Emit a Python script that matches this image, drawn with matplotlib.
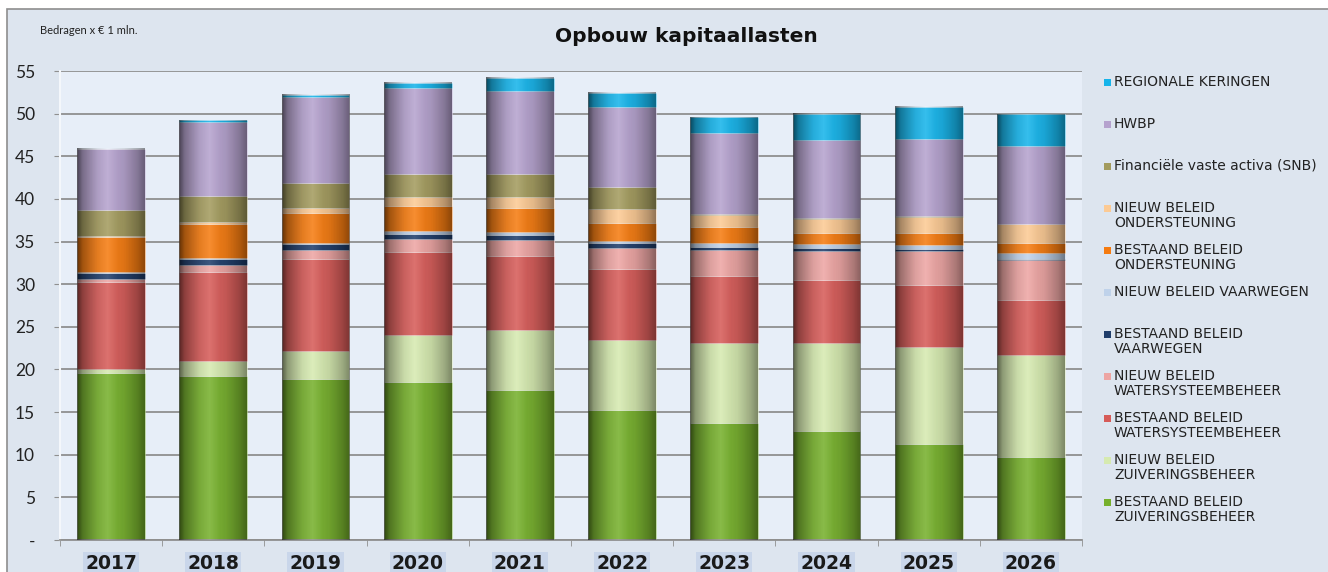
import numpy as np
import matplotlib
matplotlib.use("Agg")
import matplotlib.pyplot as plt
from matplotlib.patches import Rectangle

years = ["2017", "2018", "2019", "2020", "2021", "2022", "2023", "2024", "2025", "2026"]

bestaand_zuiv = [19.6, 19.2, 18.85, 18.5, 17.55, 15.3, 13.75, 12.8, 11.2, 9.75]
nieuw_zuiv = [0.5, 1.8, 3.35, 5.5, 7.1, 8.1, 9.3, 10.25, 11.45, 12.0]
bestaand_water = [10.2, 10.4, 10.7, 9.8, 8.7, 8.35, 7.9, 7.45, 7.25, 6.45]
nieuw_water = [0.3, 0.9, 1.1, 1.5, 1.8, 2.45, 3.1, 3.4, 4.0, 4.6]
bestaand_vaar = [0.7, 0.7, 0.7, 0.6, 0.6, 0.6, 0.35, 0.3, 0.2, 0.2]
nieuw_vaar = [0.1, 0.1, 0.15, 0.3, 0.35, 0.25, 0.45, 0.5, 0.55, 0.7]
bestaand_ond = [4.1, 3.9, 3.45, 2.95, 2.8, 2.15, 1.8, 1.3, 1.3, 1.15]
nieuw_ond = [0.15, 0.3, 0.6, 1.1, 1.35, 1.6, 1.45, 1.7, 1.95, 2.2]
fin_activa = [3.05, 3.0, 3.0, 2.7, 2.65, 2.55, 0.1, 0.05, 0.05, 0.05]
hwbp = [7.1, 8.7, 10.1, 10.0, 9.75, 9.45, 9.5, 9.2, 9.1, 9.15]
regionale = [0.1, 0.2, 0.2, 0.7, 1.55, 1.65, 1.9, 3.05, 3.75, 3.7]

series = [
    ("BESTAAND BELEID\nZUIVERINGSBEHEER", bestaand_zuiv, "#76b02c"),
    ("NIEUW BELEID\nZUIVERINGSBEHEER", nieuw_zuiv, "#d6eab0"),
    ("BESTAAND BELEID\nWATERSYSTEEMBEHEER", bestaand_water, "#d65b58"),
    ("NIEUW BELEID\nWATERSYSTEEMBEHEER", nieuw_water, "#eda5a3"),
    ("BESTAAND BELEID\nVAARWEGEN", bestaand_vaar, "#1f3d6b"),
    ("NIEUW BELEID VAARWEGEN", nieuw_vaar, "#bfd2ea"),
    ("BESTAAND BELEID\nONDERSTEUNING", bestaand_ond, "#f57b10"),
    ("NIEUW BELEID\nONDERSTEUNING", nieuw_ond, "#fcca94"),
    ("Financiële vaste activa (SNB)", fin_activa, "#a39b5e"),
    ("HWBP", hwbp, "#b5a2ce"),
    ("REGIONALE KERINGEN", regionale, "#16b4ea"),
]

W, H = 1328, 572
fig = plt.figure(figsize=(W / 100, H / 100), dpi=100)
fig.patch.set_facecolor("white")

# chart area background
fig.patches.append(Rectangle((7 / W, -0.01), 1.0, 1 - 9 / H + 0.01, transform=fig.transFigure,
                             facecolor="#dde5ef", edgecolor="#8e8e8e", linewidth=1.2, zorder=-5))

ax = fig.add_axes([60 / W, (H - 540) / H, (1082 - 60) / W, (540 - 71) / H])
ax.set_zorder(1)
ax.set_facecolor("#e7eef8")

x = np.arange(len(years))
bw = 0.665
bottom = np.zeros(len(years))
for label, vals, col in series:
    v = np.array(vals)
    ax.bar(x, v, bw, bottom=bottom, color=col, edgecolor=(1, 1, 1, 0.35), linewidth=0.5, zorder=2)
    bottom += v
totals = bottom.copy()

# cylinder shading overlay
n = 128
t = np.linspace(0, 1, n)
dark = np.interp(t, [0, 0.08, 0.3, 0.45, 0.7, 0.9, 1.0], [0.6, 0.35, 0.08, 0.0, 0.1, 0.28, 0.42])
light = np.interp(t, [0, 0.3, 0.45, 0.6, 1.0], [0.0, 0.08, 0.14, 0.04, 0.0])
black = np.zeros((1, n, 4)); black[..., 3] = dark
white = np.ones((1, n, 4)); white[..., 3] = light
for i, tot in enumerate(totals):
    ext = (x[i] - bw / 2, x[i] + bw / 2, 0, tot)
    ax.imshow(black, extent=ext, aspect="auto", interpolation="bilinear", zorder=3)
    ax.imshow(white, extent=ext, aspect="auto", interpolation="bilinear", zorder=3)

ax.set_xlim(-0.5, len(years) - 0.5)
ax.set_ylim(0, 55)

yt = np.arange(0, 56, 5)
ax.set_yticks(yt)
ax.set_yticklabels(["-"] + [str(v) for v in yt[1:]], fontsize=12.5, family="Lato", color="#222222")
ax.yaxis.grid(True, color="#8f8f8f", linewidth=1.3, zorder=0)
ax.set_axisbelow(True)
ax.tick_params(axis="y", length=4, color="#8f8f8f", pad=14)

ax.set_xticks(x)
ax.set_xticklabels(years, fontsize=13.5, fontweight="bold", family="DejaVu Sans", color="#1a1a1a")
for tl in ax.get_xticklabels():
    tl.set_bbox(dict(facecolor="#c9d6ea", edgecolor="none", pad=1.5))
ax.tick_params(axis="x", length=0, pad=10)
ax.set_xticks(np.arange(len(years) + 1) - 0.5, minor=True)
ax.tick_params(axis="x", which="minor", length=4, color="#8f8f8f")

for s in ["top", "right"]:
    ax.spines[s].set_visible(False)
ax.spines["left"].set_color("#f4f7fb")
ax.spines["left"].set_linewidth(1.5)
ax.spines["bottom"].set_color("#8f8f8f")
ax.spines["bottom"].set_linewidth(1.3)

fig.text(686 / W, 1 - 36 / H, "Opbouw kapitaallasten", ha="center", va="center",
         fontsize=14.5, fontweight="bold", family="DejaVu Sans", color="#111111")
fig.text(40 / W, 1 - 31 / H, "Bedragen x € 1 mln.", ha="left", va="center",
         fontsize=8, family="Lato", color="#222222")

# legend (top to bottom, reversed order)
y0 = 82.5
for k, (label, vals, col) in enumerate(reversed(series)):
    yy = y0 + 42 * k
    fig.patches.append(Rectangle((1104 / W, 1 - (yy + 3.5) / H), 7 / W, 7 / H,
                                 transform=fig.transFigure, facecolor=col, edgecolor="none", zorder=5))
    fig.text(1114 / W, 1 - (yy - 8) / H, label, ha="left", va="top", fontsize=10,
             family="DejaVu Sans", color="#222222", linespacing=1.15)

fig.savefig("out.png", dpi=100)
